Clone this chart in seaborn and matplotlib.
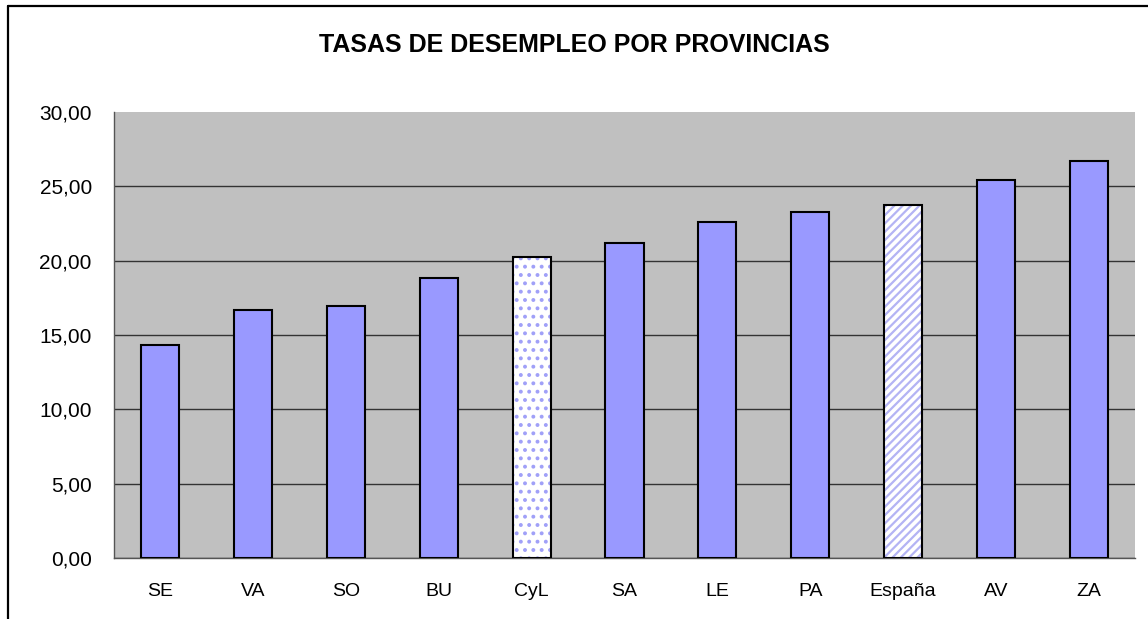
import matplotlib
matplotlib.use('Agg')
import matplotlib.pyplot as plt
import matplotlib.ticker as mticker
from matplotlib.lines import Line2D
import seaborn as sns
import pandas as pd

# Data
provincias = ['SE', 'VA', 'SO', 'BU', 'CyL', 'SA', 'LE', 'PA', 'España', 'AV', 'ZA']
tasas = [14.31, 16.67, 16.94, 18.82, 20.23, 21.17, 22.62, 23.25, 23.72, 25.40, 26.68]
patrones = {'CyL': '..', 'España': '////'}
marcas_y = [0, 5, 10, 15, 20, 25, 30]

df = pd.DataFrame({'provincia': provincias, 'tasa': tasas})

sns.set_style('white')
plt.rcParams['font.family'] = ['Liberation Sans', 'DejaVu Sans']
plt.rcParams['hatch.linewidth'] = 1.6
plt.rcParams['text.color'] = 'black'
plt.rcParams['xtick.color'] = 'black'
plt.rcParams['ytick.color'] = 'black'

fig = plt.figure(figsize=(11.48, 6.19), dpi=100)
ax = fig.add_axes([114 / 1148, 1 - 558 / 619, (1135 - 114) / 1148, (558 - 112) / 619])
ax.set_facecolor('#c0c0c0')

# Fill layer: plain bars in blue, patterned bars white with coloured hatch
caras = ['white' if p in patrones else '#9999ff' for p in provincias]
sns.barplot(data=df, x='provincia', y='tasa', hue='provincia', palette=caras,
            legend=False, width=0.41, linewidth=0, saturation=1, ax=ax, zorder=2)
for barra, p in zip(ax.patches, provincias):
    if p in patrones:
        barra.set_hatch(patrones[p])
        barra.set_edgecolor('#a0a0f8' if p == 'CyL' else '#b4b4f4')
        barra.set_linewidth(0)

# Outline layer
sns.barplot(data=df, x='provincia', y='tasa', fill=False, width=0.41,
            edgecolor='black', linewidth=1.5, ax=ax, zorder=3)

ax.set_xlim(-0.5, len(provincias) - 0.5)
ax.set_ylim(0, 30)
ax.set_yticks(marcas_y)
ax.yaxis.set_major_formatter(mticker.FuncFormatter(lambda v, _: f'{v:.2f}'.replace('.', ',')))
ax.grid(axis='y', color='#333333', linewidth=1, zorder=1)
ax.set_axisbelow(True)
ax.yaxis.get_major_ticks()[-1].gridline.set_visible(False)

# ticks between categories on the x axis
ax.set_xticks([i - 0.5 for i in range(len(provincias) + 1)], minor=True)
ax.tick_params(axis='x', which='major', length=0, pad=18, labelsize=14)
ax.tick_params(axis='x', which='minor', length=6, width=1, color='#333333', direction='out')
ax.tick_params(axis='y', length=6, width=1, color='#333333', direction='out', pad=10, labelsize=15)
ax.set_xlabel('')
ax.set_ylabel('')

for lado in ['top', 'right']:
    ax.spines[lado].set_visible(False)
for lado in ['left', 'bottom']:
    ax.spines[lado].set_color('#555555')
    ax.spines[lado].set_linewidth(1)

fig.text(0.5, 1 - 45 / 619, 'TASAS DE DESEMPLEO POR PROVINCIAS', ha='center', va='center',
         fontsize=18, fontweight='bold')

# outer chart frame (left and top edges visible in the reference)
x0, y0 = 8 / 1148, 1 - 6 / 619
fig.add_artist(Line2D([x0, x0], [-0.05, y0], color='black', linewidth=1.6, transform=fig.transFigure))
fig.add_artist(Line2D([x0, 1.05], [y0, y0], color='black', linewidth=1.6, transform=fig.transFigure))

fig.savefig('out.png', dpi=100, facecolor='white')
